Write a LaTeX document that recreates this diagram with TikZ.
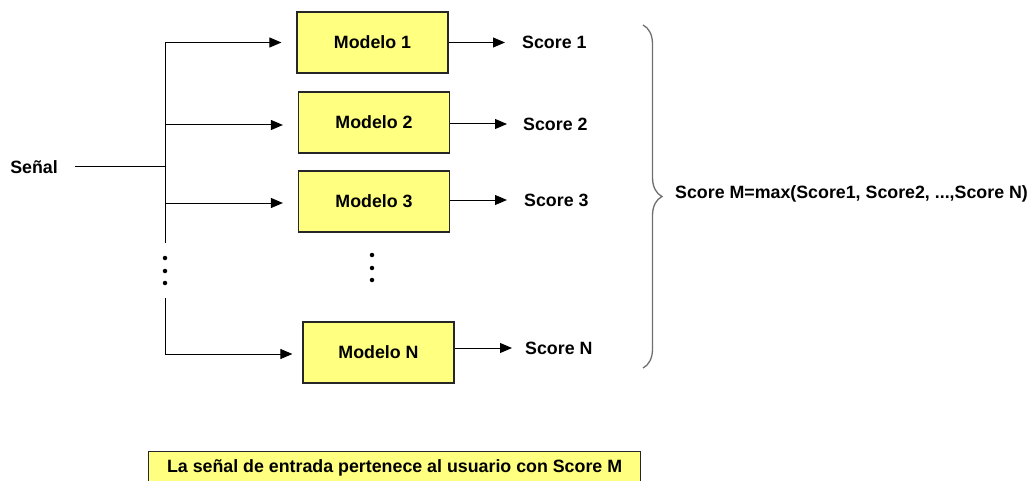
\documentclass[tikz,border=0pt]{standalone}
\usepackage{fontspec}
\setmainfont{Liberation Sans}
\usetikzlibrary{arrows.meta,decorations.pathreplacing}
\definecolor{boxyellow}{RGB}{255,255,128}
\definecolor{bracegray}{RGB}{110,110,110}
\newcommand{\diagfont}{\fontsize{17.8}{20}\selectfont\bfseries}
\tikzset{
    modelbox/.style={draw=black!85,line width=1.2pt,fill=boxyellow,minimum width=151pt,minimum height=61pt,font=\diagfont},
    arr/.style={line width=1pt,-{Triangle[length=12pt,width=10pt]}},
    lbl/.style={font=\diagfont,inner sep=0pt},
    dotmark/.style={circle,fill=black,inner sep=0pt,minimum size=4.5pt}
}
\begin{document}
\begin{tikzpicture}[x=1pt,y=-1pt]
    \useasboundingbox (0,0) rectangle (1032,481);

    % Input and trunk
    \node[lbl] (senal) at (34,167) {Señal};
    \coordinate (in) at (75,167);
    \coordinate (j) at (165,167);
    \coordinate (tr1) at (165,243);
    \coordinate (tr2) at (165,298);

    % Models
    \node[modelbox] (m1) at (372.5,42.5) {Modelo 1};
    \node[modelbox] (m2) at (374,122.5) {Modelo 2};
    \node[modelbox] (m3) at (374,201.5) {Modelo 3};
    \node[modelbox] (mN) at (378.5,352.5) {Modelo N};

    % Scores
    \node[lbl,anchor=west] (s1) at (522,42) {Score 1};
    \node[lbl,anchor=west] (s2) at (523,124) {Score 2};
    \node[lbl,anchor=west] (s3) at (524,200) {Score 3};
    \node[lbl,anchor=west] (sN) at (525,348) {Score N};

    % Trunk lines
    \draw[line width=1pt] (in) -- (j);
    \draw[line width=1pt] (m1.west -| j) -- (tr1);
    \draw[arr,shorten >=15pt] (m1.west -| j) -- (m1.west);
    \draw[arr,shorten >=15pt] ([yshift=-2.5pt]m2.west -| j) -- ([yshift=-2.5pt]m2.west);
    \draw[arr,shorten >=15pt] ([yshift=-1.5pt]m3.west -| j) -- ([yshift=-1.5pt]m3.west);
    \draw[arr,shorten >=10pt] (tr2) |- ([yshift=-1.5pt]mN.west);

    % Outputs
    \draw[arr,shorten >=17pt] (m1.east) -- (m1.east -| s1.west);
    \draw[arr,shorten >=16pt] (m2.east |- s2.west) -- (s2.west);
    \draw[arr,shorten >=17pt] (m3.east |- s3.west) -- (s3.west);
    \draw[arr,shorten >=13pt] (mN.east |- sN.west) -- (sN.west);

    % Dots
    \foreach \y in {258,271,283} \node[dotmark] (ld\y) at (165,\y) {};
    \foreach \y in {255,268,280} \node[dotmark] (md\y) at (372,\y) {};

    % Brace and result
    \draw[bracegray,line width=1.3pt,decorate,decoration={brace,amplitude=19pt}] (643,25) -- (643,368);
    \node[lbl,anchor=west] (res) at (675,194) {Score M=max(Score1, Score2, ...,Score N)};
    \node[modelbox,minimum width=492pt,minimum height=36pt,anchor=north west] (out) at (148,451) {\raisebox{7pt}{La señal de entrada pertenece al usuario con Score M}};
\end{tikzpicture}
\end{document}
